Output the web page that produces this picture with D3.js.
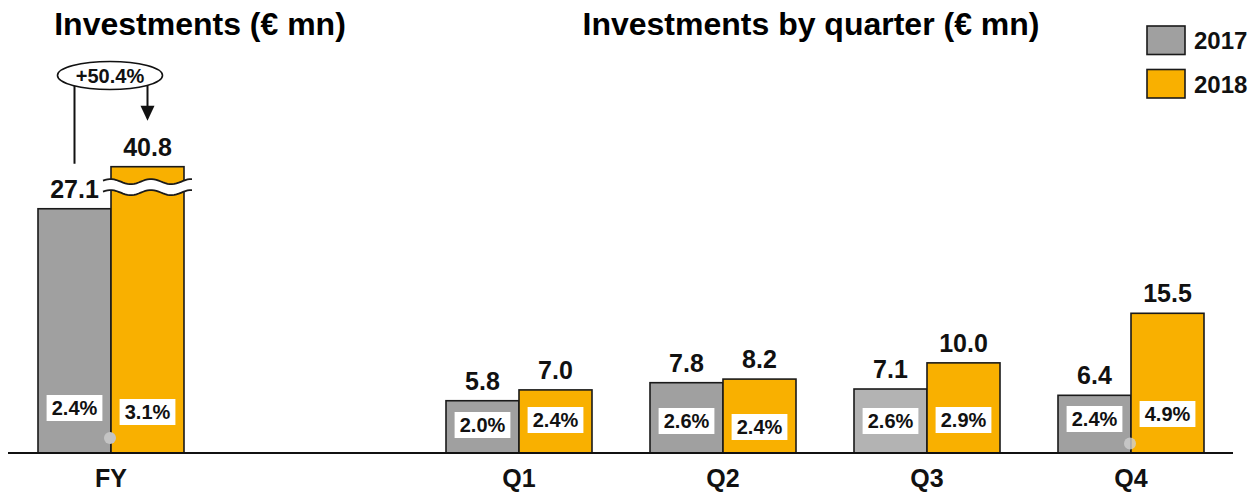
<!DOCTYPE html>
<html>
<head>
<meta charset="utf-8">
<script src="https://cdn.jsdelivr.net/npm/d3@7"></script>
<style>
  html, body { margin: 0; padding: 0; background: #fff; }
  svg { display: block; font-family: "Liberation Sans", Arial, sans-serif; }
</style>
</head>
<body>
<svg id="chart" width="1249" height="492"></svg>
<script>
// Investments in € mn, full year and per quarter
const categories = ["FY", "Q1", "Q2", "Q3", "Q4"];
const years = ["2017", "2018"];
const values2017 = [27.1, 5.8, 7.8, 7.1, 6.4];
const values2018 = [40.8, 7.0, 8.2, 10.0, 15.5];
// share of revenue, printed inside the bars
const share2017 = ["2.4%", "2.0%", "2.6%", "2.6%", "2.4%"];
const share2018 = ["3.1%", "2.4%", "2.4%", "2.9%", "4.9%"];
const growthLabel = "+50.4%";

// layout / styling
const W = 1249, H = 492;
const baseY = 453;
const colors = { "2017": "#a0a0a0", "2018": "#f9b000" };
const q3Grey = "#b3b3b3";
const shareY2017 = [408, 425, 421, 421, 419];
const shareY2018 = [412, 420, 427, 420, 414];
const breakValue = 29.5;   // values above this are drawn compressed

const svg = d3.select("#chart");

// one empty slot separates the full-year group from the quarters
const slots = ["FY", "gap", "Q1", "Q2", "Q3", "Q4"];
const x = d3.scaleBand().domain(slots).range([38, 1204]).paddingInner(58 / 204).paddingOuter(0);
const xs = d3.scaleBand().domain(years).range([0, x.bandwidth()]).padding(0);

const y = d3.scaleLinear().domain([0, 15.5]).range([baseY, 313.3]);
// broken scale for the tall full-year bar
const yBroken = d3.scaleLinear().domain([0, breakValue, 40.8]).range([baseY, y(breakValue), 166.7]);

const rows = [];
categories.forEach((c, i) => {
  rows.push({ cat: c, year: "2017", value: values2017[i], share: share2017[i], sy: shareY2017[i], i });
  rows.push({ cat: c, year: "2018", value: values2018[i], share: share2018[i], sy: shareY2018[i], i });
});
const yOf = d => (d.value > breakValue ? yBroken(d.value) : y(d.value));
const bx = d => x(d.cat) + xs(d.year);
const bw = xs.bandwidth();

// titles
svg.append("text").attr("x", 200).attr("y", 35).attr("text-anchor", "middle")
  .attr("font-size", 32).attr("font-weight", "bold").text("Investments (€ mn)");
svg.append("text").attr("x", 811).attr("y", 35).attr("text-anchor", "middle")
  .attr("font-size", 32).attr("font-weight", "bold").text("Investments by quarter (€ mn)");

// bars
svg.append("g").selectAll("rect").data(rows).join("rect")
  .attr("x", bx).attr("y", yOf).attr("width", bw)
  .attr("height", d => baseY - yOf(d))
  .attr("fill", d => (d.cat === "Q3" && d.year === "2017") ? q3Grey : colors[d.year])
  .attr("stroke", "#1a1a1a").attr("stroke-width", 1.6);

// axis break on the full-year 2018 bar
const fy18 = rows.find(d => d.cat === "FY" && d.year === "2018");
{
  const x0 = bx(fy18) - 8, x1 = bx(fy18) + bw + 8;
  const cy = y(breakValue);
  const n = 40;
  const wave = d3.range(n + 1).map(k => {
    const t = k / n;
    const xx = x0 + t * (x1 - x0);
    return [xx, Math.sin((xx - x0) / (x1 - x0) * Math.PI * 4.4 + 0.4) * -2.6];
  });
  const top = wave.map(([a, b]) => [a, cy - 5.5 + b]);
  const bot = wave.map(([a, b]) => [a, cy + 5.5 + b]);
  const line = d3.line();
  svg.append("path").attr("d", line(top.concat(bot.slice().reverse())) + "Z")
    .attr("fill", "#fff").attr("stroke", "none");
  svg.append("path").attr("d", line(top)).attr("fill", "none").attr("stroke", "#1a1a1a").attr("stroke-width", 1.8);
  svg.append("path").attr("d", line(bot)).attr("fill", "none").attr("stroke", "#1a1a1a").attr("stroke-width", 1.8);
}

// baseline
svg.append("line").attr("x1", 8).attr("x2", 1233).attr("y1", baseY).attr("y2", baseY)
  .attr("stroke", "#111").attr("stroke-width", 2.2);

// value labels above bars
svg.append("g").selectAll("text").data(rows).join("text")
  .attr("x", d => bx(d) + bw / 2).attr("y", d => yOf(d) - 11)
  .attr("text-anchor", "middle").attr("font-size", 25).attr("font-weight", "bold")
  .attr("fill", "#111").text(d => d.value.toFixed(1));

// share labels in white boxes
const shareG = svg.append("g").selectAll("g").data(rows).join("g")
  .attr("transform", d => `translate(${bx(d) + bw / 2},${d.sy})`);
shareG.append("text").attr("text-anchor", "middle").attr("dy", "0.36em")
  .attr("font-size", 20).attr("font-weight", "bold").attr("fill", "#111")
  .text(d => d.share);
shareG.each(function () {
  const g = d3.select(this);
  const t = g.select("text").node().getBBox();
  g.insert("rect", "text").attr("x", -t.width / 2 - 5).attr("y", -13)
    .attr("width", t.width + 10).attr("height", 26).attr("fill", "#fff");
});

// small grey markers on the bar joints
svg.append("circle").attr("cx", x("FY") + xs("2018") - 1).attr("cy", 438).attr("r", 6).attr("fill", "#c4c4c4");
svg.append("circle").attr("cx", x("Q4") + xs("2018") - 1).attr("cy", 443.5).attr("r", 6)
  .attr("fill", "#d0d0d0").attr("opacity", 0.8);

// category labels
svg.append("g").selectAll("text").data(categories).join("text")
  .attr("x", d => x(d) + x.bandwidth() / 2).attr("y", 487)
  .attr("text-anchor", "middle").attr("font-size", 25).attr("font-weight", "bold")
  .attr("fill", "#111").text(d => d);

// growth annotation
{
  const cx = x("FY") + x.bandwidth() / 2 - 1, cy = 75.5, rx = 52.5, ry = 14;
  const g = svg.append("g");
  const xl = bx(rows[0]) + bw / 2, xr = bx(fy18) + bw / 2;
  const edge = xx => cy + ry * Math.sqrt(1 - Math.pow((xx - cx) / rx, 2));
  g.append("line").attr("x1", xl).attr("x2", xl).attr("y1", edge(xl)).attr("y2", y(values2017[0]) - 45)
    .attr("stroke", "#111").attr("stroke-width", 2);
  const tip = yBroken(values2018[0]) - 46;
  g.append("line").attr("x1", xr).attr("x2", xr).attr("y1", edge(xr)).attr("y2", tip - 12)
    .attr("stroke", "#111").attr("stroke-width", 2);
  g.append("path").attr("d", `M${xr - 7},${tip - 15} L${xr + 7},${tip - 15} L${xr},${tip} Z`).attr("fill", "#111");
  g.append("ellipse").attr("cx", cx).attr("cy", cy).attr("rx", rx).attr("ry", ry)
    .attr("fill", "#fff").attr("stroke", "#111").attr("stroke-width", 1.6);
  g.append("text").attr("x", cx).attr("y", cy + 7).attr("text-anchor", "middle")
    .attr("font-size", 20).attr("font-weight", "bold").attr("fill", "#111").text(growthLabel);
}

// legend
const legend = svg.append("g").selectAll("g").data(years).join("g")
  .attr("transform", (d, i) => `translate(1147,${26 + i * 43.5})`);
legend.append("rect").attr("width", 38).attr("height", 28.5)
  .attr("fill", d => colors[d]).attr("stroke", "#1a1a1a").attr("stroke-width", 1.6);
legend.append("text").attr("x", 47).attr("y", 23).attr("font-size", 24).attr("font-weight", "bold")
  .attr("fill", "#111").text(d => d);
</script>
</body>
</html>
